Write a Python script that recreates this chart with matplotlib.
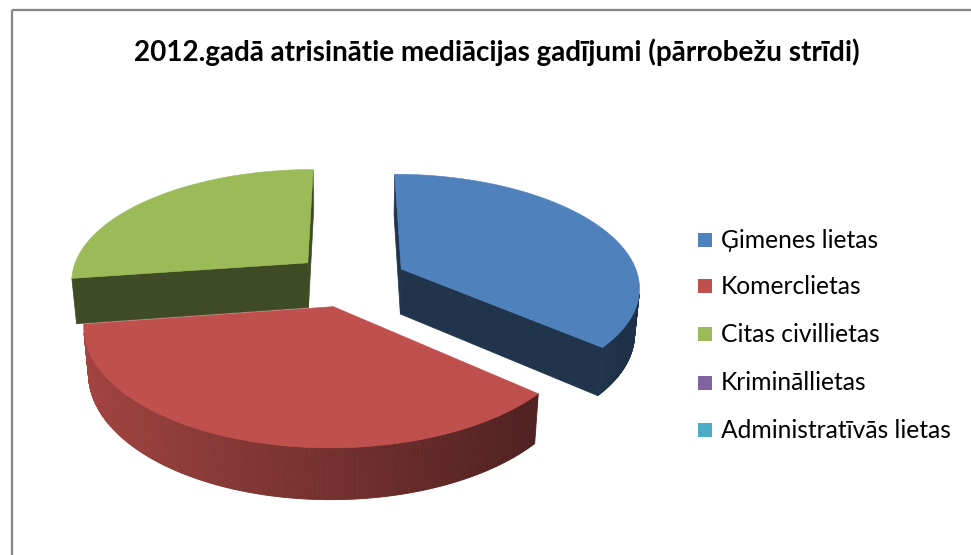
import numpy as np
import matplotlib
matplotlib.use('Agg')
import matplotlib.pyplot as plt
from matplotlib.patches import Polygon, Rectangle

# ---------------- data ----------------
categories = ['Ģimenes lietas', 'Komerclietas', 'Citas civillietas',
              'Krimināllietas', 'Administratīvās lietas']
values = [8, 8, 6, 0, 0]
colors = ['#4F81BD', '#C0504D', '#9BBB59', '#8064A2', '#4BACC6']
title = '2012.gadā atrisinātie mediācijas gadījumi (pārrobežu strīdi)'

# ---------------- canvas ----------------
W, H = 971, 555
fig = plt.figure(figsize=(W / 100, H / 100), dpi=100)
ax = fig.add_axes([0, 0, 1, 1])
ax.set_xlim(0, W)
ax.set_ylim(H, 0)
ax.axis('off')

ax.add_patch(Rectangle((11.5, 10), 1200, 800, fill=False,
                       edgecolor='#868686', lw=1.6))

# ---------------- 3D pie projection ----------------
cx, cy = 350, 280
K = 238
alpha = np.radians(28)
f = 6.0
h = 0.22
explode = 0.24
sa, ca = np.sin(alpha), np.cos(alpha)
cam = np.array([0.0, -f * ca, f * sa])


def proj(x, y, z):
    Y = y * sa + z * ca
    D = y * ca - z * sa
    s = 1.0 / (1.0 + D / f)
    return cx + K * x * s, cy - K * Y * s


def visible(p, n):
    return np.dot(cam - np.asarray(p), np.asarray(n)) > 0


def shade(c, fac):
    rgb = np.array(matplotlib.colors.to_rgb(c))
    return tuple(np.clip(rgb * fac, 0, 1))


total = float(sum(values))
slices = []
start = 0.0
for v, c in zip(values, colors):
    if v <= 0:
        continue
    span = 360.0 * v / total
    slices.append((start, start + span, c))
    start += span

# draw far slices first
slices.sort(key=lambda s: -np.cos(np.radians((s[0] + s[1]) / 2)))

for t0, t1, col in slices:
    mid = np.radians((t0 + t1) / 2)
    ox, oy = explode * np.sin(mid), explode * np.cos(mid)
    th = np.radians(np.linspace(t0, t1, max(int((t1 - t0) * 2), 2) + 1))

    # radial faces
    for t, sign in ((np.radians(t0), -1), (np.radians(t1), 1)):
        n = np.array([sign * np.cos(t), -sign * np.sin(t), 0.0])
        ax_ = ox + np.sin(t)
        ay_ = oy + np.cos(t)
        pc = np.array([(ox + ax_) / 2, (oy + ay_) / 2, -h / 2])
        if visible(pc, n):
            pts = [proj(ox, oy, 0), proj(ax_, ay_, 0),
                   proj(ax_, ay_, -h), proj(ox, oy, -h)]
            fc = shade(col, 0.40)
            ax.add_patch(Polygon(pts, closed=True, facecolor=fc,
                                 edgecolor=fc, lw=0.5))

    # outer curved side
    for a, b in zip(th[:-1], th[1:]):
        m = (a + b) / 2
        n = np.array([np.sin(m), np.cos(m), 0.0])
        pc = np.array([ox + np.sin(m), oy + np.cos(m), -h / 2])
        if not visible(pc, n):
            continue
        pts = [proj(ox + np.sin(a), oy + np.cos(a), 0),
               proj(ox + np.sin(b), oy + np.cos(b), 0),
               proj(ox + np.sin(b), oy + np.cos(b), -h),
               proj(ox + np.sin(a), oy + np.cos(a), -h)]
        fac = np.clip(0.6 - 0.26 * np.sin(m), 0.38, 0.9)
        fc = shade(col, fac)
        ax.add_patch(Polygon(pts, closed=True, facecolor=fc,
                             edgecolor=fc, lw=0.6))

    # top face
    pts = [proj(ox, oy, 0)] + [proj(ox + np.sin(t), oy + np.cos(t), 0) for t in th]
    ax.add_patch(Polygon(pts, closed=True, facecolor=col,
                         edgecolor=col, lw=0.4))

# ---------------- text ----------------
fig.canvas.draw()
renderer = fig.canvas.get_renderer()

t = ax.text(497, 61, title, ha='center', va='baseline', fontsize=18,
            fontweight='bold', family=['Lato', 'DejaVu Sans'], color='#000000')
bb = t.get_window_extent(renderer)
t.set_fontsize(18 * 730 / bb.width)

leg_y = [240, 286, 334, 383, 430]
texts = []
for lab, c, y in zip(categories, colors, leg_y):
    ax.add_patch(Rectangle((698, y - 7), 14, 14, facecolor=c, edgecolor='none'))
    tx = ax.text(721, y + 7.5, lab, ha='left', va='baseline', fontsize=15,
                 family=['Lato', 'DejaVu Sans'], color='#000000')
    texts.append(tx)
bb = texts[-1].get_window_extent(renderer)
fs = 15 * 231 / bb.width
for tx in texts:
    tx.set_fontsize(fs)

fig.savefig('out.png', dpi=100)
